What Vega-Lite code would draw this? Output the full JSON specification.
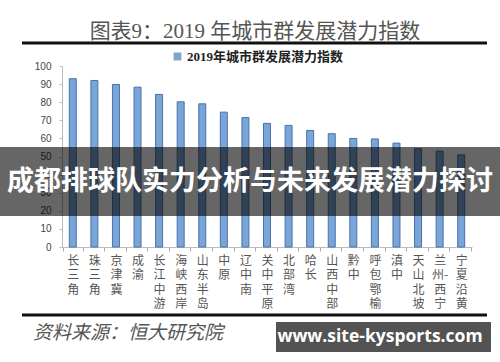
{
  "$schema": "https://vega.github.io/schema/vega-lite/v6.json",
  "autosize": "none",
  "width": 410,
  "height": 181,
  "padding": {"left": 62, "top": 66, "right": 28, "bottom": 115},
  "background": "white",
  "config": {"view": {"stroke": null}, "font": "Noto Sans CJK SC"},
  "title": {
    "text": "图表9：2019 年城市群发展潜力指数",
    "font": "Liberation Serif, Noto Sans CJK SC",
    "fontSize": 21,
    "fontWeight": "normal",
    "color": "#555555",
    "anchor": "middle",
    "dx": -12,
    "offset": 0
  },
  "datasets": {
    "cities": [
      {"city": "长三角", "index": 93.0},
      {"city": "珠三角", "index": 92.0},
      {"city": "京津冀", "index": 89.8},
      {"city": "成渝", "index": 88.3},
      {"city": "长江中游", "index": 84.3},
      {"city": "海峡西岸", "index": 80.2},
      {"city": "山东半岛", "index": 79.1},
      {"city": "中原", "index": 74.5},
      {"city": "辽中南", "index": 71.5},
      {"city": "关中平原", "index": 68.3},
      {"city": "北部湾", "index": 67.2},
      {"city": "哈长", "index": 64.4},
      {"city": "山西中部", "index": 62.6},
      {"city": "黔中", "index": 60.0},
      {"city": "呼包鄂榆", "index": 59.7},
      {"city": "滇中", "index": 57.4},
      {"city": "天山北坡", "index": 54.3},
      {"city": "兰州-西宁", "index": 53.0},
      {"city": "宁夏沿黄", "index": 50.9}
    ],
    "notes": [
      {"banner": "成都排球队实力分析与未来发展潜力探讨", "source": "资料来源：恒大研究院", "site": "www.site-kysports.com"}
    ]
  },
  "layer": [
    {
      "data": {"name": "cities"},
      "mark": {"type": "bar", "size": 7, "stroke": "#4a72a6", "strokeWidth": 1},
      "encoding": {
        "x": {
          "field": "city",
          "type": "nominal",
          "sort": null,
          "axis": {
            "title": null,
            "labelAngle": 0,
            "labelExpr": "datum.label == '兰州-西宁' ? ['兰', '州-', '西', '宁'] : split(datum.label, '')",
            "labelBaseline": "top",
            "labelFontSize": 12,
            "labelLineHeight": 14.6,
            "labelColor": "#555555",
            "labelPadding": 4,
            "tickBand": "extent",
            "tickSize": 4,
            "tickColor": "#aaaaaa",
            "domainColor": "#bbbbbb"
          }
        },
        "y": {
          "field": "index",
          "type": "quantitative",
          "scale": {"domain": [0, 100], "range": [181, 0]},
          "axis": {
            "title": null,
            "values": [0, 10, 20, 30, 40, 50, 60, 70, 80, 90, 100],
            "grid": false,
            "labelFont": "Liberation Sans",
            "labelFontSize": 10,
            "labelColor": "#444444",
            "labelPadding": 8,
            "tickSize": 3,
            "tickColor": "#bbbbbb",
            "domainColor": "#bbbbbb"
          }
        },
        "color": {
          "datum": "2019年城市群发展潜力指数",
          "type": "nominal",
          "scale": {"range": ["#7aa5d8"]},
          "legend": {
            "title": null,
            "orient": "none",
            "legendX": 109,
            "legendY": -16,
            "symbolType": "square",
            "symbolSize": 40,
            "symbolFillColor": "#8aa4c4",
            "symbolStrokeColor": "#8aa4c4",
            "labelFont": "Liberation Serif, Noto Sans CJK SC",
            "labelFontSize": 13,
            "labelFontWeight": "bold",
            "labelColor": "#222222",
            "labelOffset": 3,
            "labelLimit": 0
          }
        }
      }
    },
    {
      "data": {"name": "notes"},
      "mark": {"type": "rule", "color": "#111111", "strokeWidth": 3},
      "encoding": {"x": {"value": -40}, "x2": {"value": 425}, "y": {"value": -23}}
    },
    {
      "data": {"name": "notes"},
      "mark": {"type": "rule", "color": "#111111", "strokeWidth": 3},
      "encoding": {"x": {"value": -40}, "x2": {"value": 425}, "y": {"value": 249}}
    },
    {
      "data": {"name": "notes"},
      "mark": {"type": "text", "align": "left", "baseline": "middle", "fontSize": 19, "fontStyle": "italic", "color": "#555555"},
      "encoding": {"x": {"value": -29}, "y": {"value": 267}, "text": {"field": "source"}}
    },
    {
      "data": {"name": "notes"},
      "mark": {"type": "rect", "color": "#000000", "opacity": 0.6},
      "encoding": {"x": {"value": -62}, "x2": {"value": 438}, "y": {"value": 81}, "y2": {"value": 150}}
    },
    {
      "data": {"name": "notes"},
      "mark": {"type": "text", "align": "center", "baseline": "middle", "fontSize": 27, "fontWeight": "bold", "color": "#ffffff"},
      "encoding": {"x": {"value": 188}, "y": {"value": 115.5}, "text": {"field": "banner"}}
    },
    {
      "data": {"name": "notes"},
      "mark": {"type": "rect", "color": "#4a4a4a", "opacity": 0.95},
      "encoding": {"x": {"value": 214}, "x2": {"value": 429}, "y": {"value": 256}, "y2": {"value": 286}}
    },
    {
      "data": {"name": "notes"},
      "mark": {"type": "text", "align": "center", "baseline": "middle", "fontSize": 17.5, "font": "Open Sans", "fontWeight": "bold", "color": "#ffffff"},
      "encoding": {"x": {"value": 318}, "y": {"value": 271}, "text": {"field": "site"}}
    }
  ]
}
